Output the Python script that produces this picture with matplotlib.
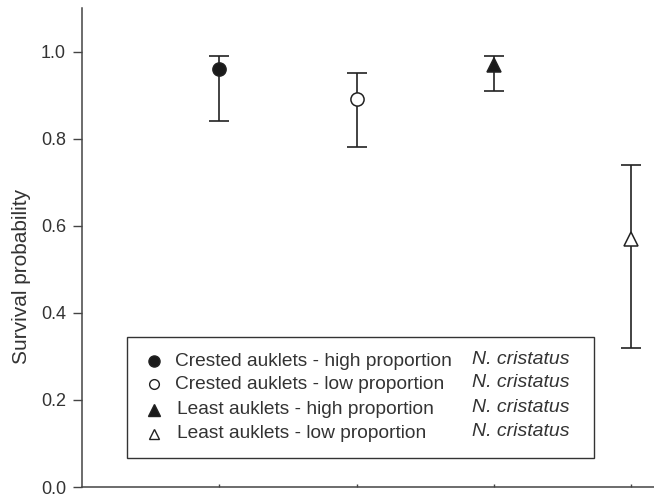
import matplotlib
matplotlib.use("Agg")
import matplotlib.pyplot as plt
from matplotlib.patches import Rectangle

plt.rcParams["font.family"] = ["Liberation Sans", "DejaVu Sans"]

labels = ["Crested auklets - high proportion", "Crested auklets - low proportion",
          "Least auklets - high proportion", "Least auklets - low proportion"]
species = ["N. cristatus", "N. cristatus", "N. cristatus", "N. cristatus"]
xpos = [1, 2, 3, 4]
survival = [0.96, 0.89, 0.97, 0.57]
upper = [0.99, 0.95, 0.99, 0.74]
lower = [0.84, 0.78, 0.91, 0.32]
markers = ["o", "o", "^", "^"]
faces = ["#1a1a1a", "white", "#1a1a1a", "white"]

ink = "#222222"
fig = plt.figure(figsize=(6.54, 5.04), dpi=100)
ax = fig.add_axes([82 / 654, 17 / 504, 572 / 654, 479 / 504])

for x, y, lo, hi, m, fc in zip(xpos, survival, lower, upper, markers, faces):
    ax.errorbar([x], [y], yerr=[[y - lo], [hi - y]], fmt="none", ecolor=ink,
                elinewidth=1.2, capsize=7, capthick=1.2, zorder=2)
    ax.plot([x], [y], marker=m, markersize=9.5, markerfacecolor=fc,
            markeredgecolor=ink, markeredgewidth=1.1, linestyle="none", zorder=3)

ax.set_xlim(0, 572 / 137.3)
ax.set_ylim(0, 1.1)
ax.set_yticks([0.0, 0.2, 0.4, 0.6, 0.8, 1.0])
ax.set_yticklabels(["0.0", "0.2", "0.4", "0.6", "0.8", "1.0"])
ax.set_xticks(xpos)
ax.set_xticklabels([])
ax.tick_params(axis="y", direction="out", length=6.5, width=1, color="#444444",
               labelsize=13, labelcolor="#333333", pad=5)
ax.tick_params(axis="x", direction="in", length=2, width=1, color="#444444")
for s in ["top", "right"]:
    ax.spines[s].set_visible(False)
for s in ["left", "bottom"]:
    ax.spines[s].set_color("#444444")
    ax.spines[s].set_linewidth(1.1)
ax.set_ylabel("Survival probability", fontsize=15, color="#333333")
ax.yaxis.set_label_coords(-0.09, 0.44)

# legend box drawn by hand, two columns
box = Rectangle((0.0787, 0.0605), 0.895 - 0.0787, 0.313 - 0.0605, transform=ax.transAxes,
                facecolor="white", edgecolor="#333333", linewidth=1.0, zorder=4)
ax.add_patch(box)
rows = [0.263, 0.215, 0.161, 0.111]
key_sizes = [8, 7, 8, 6.5]
text_x = [0.163, 0.163, 0.166, 0.166]
for ry, m, fc, ks, lab, sp, tx in zip(rows, markers, faces, key_sizes, labels, species, text_x):
    ax.plot([0.126], [ry], marker=m, markersize=ks, markerfacecolor=fc, markeredgecolor=ink,
            markeredgewidth=1.0, transform=ax.transAxes, clip_on=False, zorder=5)
    ax.text(tx, ry, lab, transform=ax.transAxes, fontsize=13.8, color="#333333",
            va="center", ha="left", zorder=5)
    ax.text(0.682, ry + 0.004, sp, transform=ax.transAxes, fontsize=14, color="#333333",
            style="italic", va="center", ha="left", zorder=5)

fig.savefig("out.png", dpi=100)
